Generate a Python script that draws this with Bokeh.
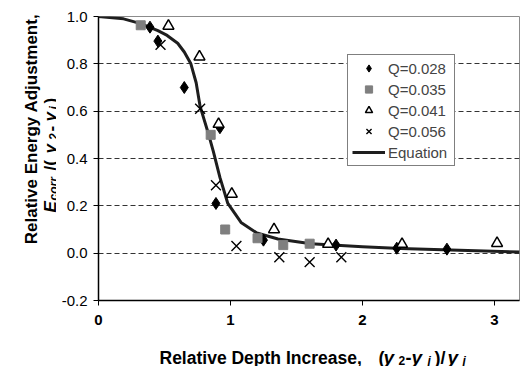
import math
from bokeh.plotting import figure
from bokeh.layouts import row, column
from bokeh.models import (Range1d, FixedTicker, NumeralTickFormatter, Label,
                          Legend, LegendItem)
from bokeh.embed import file_html
from bokeh.resources import INLINE

# ---------------- data ----------------
q028_x = [0.39, 0.45, 0.65, 0.89, 0.92, 1.25, 1.80, 2.26, 2.64]
q028_y = [0.955, 0.896, 0.70, 0.21, 0.53, 0.055, 0.034, 0.021, 0.017]

q035_x = [0.32, 0.85, 0.96, 1.205, 1.40, 1.60]
q035_y = [0.963, 0.50, 0.10, 0.063, 0.034, 0.040]

q041_x = [0.53, 0.765, 0.91, 1.01, 1.33, 1.74, 2.30, 3.02]
q041_y = [0.96, 0.83, 0.545, 0.25, 0.10, 0.038, 0.038, 0.042]

q056_x = [0.47, 0.77, 0.89, 1.045, 1.37, 1.60, 1.84]
q056_y = [0.88, 0.61, 0.287, 0.03, -0.017, -0.038, -0.017]

eq_x = [0, 0.19, 0.32, 0.45, 0.52, 0.60, 0.65, 0.70, 0.74, 0.77, 0.83, 0.87,
        0.92, 0.98, 1.08, 1.20, 1.36, 1.61, 2.0, 2.29, 2.67, 3.19]
eq_y = [1.0, 0.99, 0.97, 0.94, 0.92, 0.887, 0.85, 0.80, 0.72, 0.62, 0.51, 0.43,
        0.32, 0.21, 0.13, 0.085, 0.06, 0.04, 0.027, 0.02, 0.013, 0.005]

x_ticks = [0, 1, 2, 3]
y_ticks = [-0.2, 0.0, 0.2, 0.4, 0.6, 0.8, 1.0]
grid_ticks = [0.0, 0.2, 0.4, 0.6, 0.8]
series_names = ["Q=0.028", "Q=0.035", "Q=0.041", "Q=0.056", "Equation"]

# ---------------- layout ----------------
XR = (0, 3.19)
YR = (-0.2, 1.0)
TOTAL_W, TOTAL_H = 521, 366
YT_W = 56            # strip holding the y-axis title
XT_H = 31            # strip holding the x-axis title
W, H = TOTAL_W - YT_W, TOTAL_H - XT_H
BL, BR, BT, BB = 98 - YT_W, 2, 16, 35
FONT = "Liberation Sans"

p = figure(width=W, height=H, x_range=Range1d(*XR), y_range=Range1d(*YR),
           output_backend="svg", toolbar_location=None,
           min_border_left=BL, min_border_right=BR,
           min_border_top=BT, min_border_bottom=BB)
p.frame_align = False
p.background_fill_color = "white"
p.border_fill_color = "white"
p.outline_line_color = "#8c8c8c"
p.outline_line_width = 1

# axes
p.xaxis.ticker = FixedTicker(ticks=x_ticks)
p.yaxis.ticker = FixedTicker(ticks=y_ticks)
p.yaxis.formatter = NumeralTickFormatter(format="0.0")
p.xaxis.formatter = NumeralTickFormatter(format="0")
for ax in (p.xaxis, p.yaxis):
    ax.axis_line_color = "black"
    ax.axis_line_width = 1.5
    ax.major_tick_line_color = "black"
    ax.major_tick_line_width = 1
    ax.major_tick_out = 5
    ax.major_tick_in = 0
    ax.minor_tick_line_color = None
    ax.major_label_text_font = FONT
    ax.major_label_text_font_size = "15px"
    ax.major_label_text_color = "black"
p.xaxis.major_label_text_font_style = "bold"
p.yaxis.major_label_standoff = 6
p.xaxis.major_label_standoff = 9

# grid
p.xgrid.visible = False
p.ygrid.ticker = FixedTicker(ticks=grid_ticks)
p.ygrid.grid_line_color = "#333333"
p.ygrid.grid_line_dash = "5 3"
p.ygrid.grid_line_width = 1

# glyphs
r_eq = p.line(eq_x, eq_y, line_color="#1e1e1e", line_width=3, line_join="round")
r1 = p.scatter(q028_x, q028_y, marker="diamond", size=12,
               fill_color="black", line_color="black")
r2 = p.scatter(q035_x, q035_y, marker="square", size=9,
               fill_color="#7f7f7f", line_color="#7f7f7f")
r3 = p.scatter(q041_x, q041_y, marker="triangle", size=11,
               fill_color="white", line_color="black", line_width=1.5)
r4 = p.scatter(q056_x, q056_y, marker="x", size=14,
               line_color="black", line_width=1.4)

legend = Legend(items=[LegendItem(label=series_names[0], renderers=[r1]),
                       LegendItem(label=series_names[1], renderers=[r2]),
                       LegendItem(label=series_names[2], renderers=[r3]),
                       LegendItem(label=series_names[3], renderers=[r4]),
                       LegendItem(label=series_names[4], renderers=[r_eq])],
                location=(249, 134))
legend.margin = 0
legend.padding = 4
legend.spacing = 3
legend.glyph_width = 33
legend.glyph_height = 18
legend.label_standoff = 3
legend.label_width = 62
legend.label_text_font = FONT
legend.label_text_font_size = "15px"
legend.border_line_color = "black"
legend.border_line_width = 1
legend.background_fill_color = "white"
legend.background_fill_alpha = 1
p.add_layout(legend)


def strip(x0, x1, y0, y1):
    """A bare figure whose data coordinates equal page pixels."""
    f = figure(width=x1 - x0, height=y1 - y0,
               x_range=Range1d(x0, x1), y_range=Range1d(y1, y0),
               output_backend="svg", toolbar_location=None,
               x_axis_type=None, y_axis_type=None,
               min_border_left=0, min_border_right=0,
               min_border_top=0, min_border_bottom=0)
    f.frame_align = False
    f.grid.visible = False
    f.outline_line_color = None
    f.background_fill_color = "white"
    f.border_fill_color = "white"
    return f


yfig = strip(0, YT_W, 0, TOTAL_H)
xfig = strip(YT_W, TOTAL_W, H, TOTAL_H)


def lab(f, px, py, text, size, style="bold", angle=0.0, align="left"):
    f.add_layout(Label(x=px, y=py, text=text, text_font=FONT,
                       text_font_size=f"{size}px", text_font_style=style,
                       text_color="black", angle=angle, text_align=align,
                       text_baseline="alphabetic"))


# x-axis title: Relative Depth Increase,  (y2-yj)/yj
lab(xfig, 159, 357, "Relative Depth Increase,", 17.5)
lab(xfig, 378, 357, "(", 18)
lab(xfig, 383, 357, "y", 19, "bold italic")
lab(xfig, 398, 360, "2", 12)
lab(xfig, 405, 357, "-", 18)
lab(xfig, 411, 357, "y", 19, "bold italic")
lab(xfig, 427, 360, "j", 12, "bold italic")
lab(xfig, 434, 357, ")/", 18)
lab(xfig, 447, 357, "y", 19, "bold italic")
lab(xfig, 462, 360, "j", 12, "bold italic")

# y-axis title (rotated): Relative Energy Adjustment,  E_corr/(y2-yj)
R = math.pi / 2
lab(yfig, 31, 128.5, "Relative Energy Adjustment,", 17, angle=R, align="center")
lab(yfig, 50, 212, "E", 17, "bold italic", angle=R)
lab(yfig, 53, 200, "corr", 12, "bold italic", angle=R)
lab(yfig, 50, 170, "/(", 17, angle=R)
lab(yfig, 50, 153, "y", 17, "bold italic", angle=R)
lab(yfig, 53, 139, "2", 12, angle=R)
lab(yfig, 50, 131, "-", 17, angle=R)
lab(yfig, 50, 121, "y", 17, "bold italic", angle=R)
lab(yfig, 53, 109, "j", 12, "bold italic", angle=R)
lab(yfig, 50, 103, ")", 17, angle=R)

layout = row(yfig, column(p, xfig, spacing=0), spacing=0)
open("out.html", "w").write(file_html(layout, INLINE))
